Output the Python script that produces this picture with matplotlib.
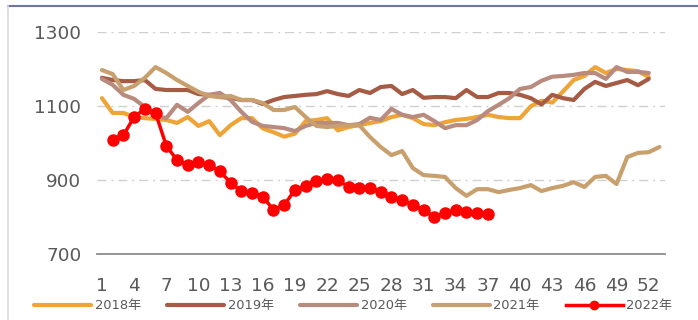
import matplotlib.pyplot as plt
from matplotlib.lines import Line2D

# weekly values, 2018-2022
weeks = list(range(1, 53))
weeks_2021 = list(range(1, 54))
weeks_2022 = list(range(2, 38))

y2018 = [1122, 1082, 1082, 1071, 1068, 1066, 1063, 1055, 1071, 1047,
         1060, 1022, 1049, 1068, 1068, 1040, 1030, 1018, 1026, 1060,
         1063, 1068, 1035, 1044, 1049, 1055, 1060, 1071, 1077, 1068,
         1052, 1049, 1057, 1063, 1066, 1071, 1077, 1071, 1068, 1068,
         1100, 1115, 1110, 1140, 1171, 1182, 1206, 1190, 1201, 1198,
         1195, 1179]
y2019 = [1177, 1171, 1168, 1168, 1171, 1147, 1144, 1144, 1144, 1133,
         1131, 1125, 1123, 1117, 1117, 1106, 1117, 1125, 1128, 1131,
         1133, 1141, 1133, 1128, 1144, 1136, 1152, 1155, 1133, 1144,
         1123, 1125, 1125, 1122, 1144, 1125, 1125, 1136, 1136, 1131,
         1122, 1105, 1131, 1122, 1117, 1147, 1166, 1155, 1163, 1171,
         1157, 1174]
y2020 = [1174, 1158, 1131, 1120, 1098, 1074, 1068, 1104, 1085, 1109,
         1131, 1136, 1117, 1085, 1058, 1047, 1044, 1041, 1033, 1047,
         1055, 1055, 1055, 1049, 1052, 1069, 1063, 1093, 1077, 1071,
         1077, 1060, 1041, 1049, 1049, 1063, 1087, 1104, 1122, 1147,
         1152, 1169, 1180, 1182, 1185, 1190, 1190, 1174, 1206, 1193,
         1193, 1190]
y2021 = [1198, 1187, 1144, 1155, 1177, 1206, 1190, 1171, 1155, 1139,
         1128, 1125, 1128, 1117, 1117, 1109, 1090, 1090, 1098, 1071,
         1047, 1044, 1047, 1049, 1049, 1017, 990, 968, 979, 933,
         914, 912, 909, 879, 858, 876, 876, 868, 874, 879,
         887, 871, 879, 885, 895, 882, 909, 912, 890, 963,
         974, 976, 990]
y2022 = [1009, 1022, 1071, 1093, 1082, 993, 955, 942, 950, 942,
         924, 894, 870, 867, 856, 820, 833, 874, 885, 899,
         904, 901, 882, 879, 879, 868, 855, 847, 833, 820,
         801, 812, 820, 814, 812, 809]

xticks = list(range(1, 53, 3))
yticks = [700, 900, 1100, 1300]

W, H = 698, 320
fig = plt.figure(figsize=(W / 100, H / 100), dpi=100)
ax = fig.add_axes([96.6 / W, 1 - 254.3 / H, 568.2 / W, 222.0 / H])

ax.plot(weeks, y2018, color='#EEA436', lw=3, label='2018年', solid_capstyle='round')
ax.plot(weeks, y2019, color='#A65B45', lw=3, label='2019年', solid_capstyle='round')
ax.plot(weeks, y2020, color='#B98A7E', lw=3, label='2020年', solid_capstyle='round')
ax.plot(weeks_2021, y2021, color='#C8A06E', lw=3, label='2021年', solid_capstyle='round')
ax.plot(weeks_2022, y2022, color='#FF0000', lw=2.5, marker='o', markersize=8,
        label='2022年')

ax.set_xlim(0.5, 53.5)
ax.set_ylim(700, 1300)
ax.set_xticks(xticks)
ax.set_yticks(yticks)
ax.tick_params(length=0, labelsize=13.3, colors='#595959')
ax.tick_params(axis='x', pad=16)
ax.tick_params(axis='y', pad=11)

ax.grid(axis='y', color='#D0D0D0', lw=1, linestyle=(0, (6.5, 3.5, 1.5, 3.5)))
for s in ['top', 'left', 'right']:
    ax.spines[s].set_visible(False)
ax.spines['bottom'].set_color('#8C8C8C')
ax.spines['bottom'].set_linewidth(1.3)

leg = fig.legend(loc='center', bbox_to_anchor=(0.506, 0.045), ncol=5, frameon=False,
                 handlelength=4.4, handletextpad=0.25, columnspacing=2.0, markerscale=0.75,
                 prop={'family': ['DejaVu Sans', 'Noto Sans CJK SC'], 'size': 9.4})
for t in leg.get_texts():
    t.set_color('#595959')

# outer frame of the original chart
fig.add_artist(Line2D([8 / W, 1], [1 - 6 / H, 1 - 6 / H], color='#6E76A6', lw=1.5))
fig.add_artist(Line2D([8 / W, 8 / W], [0, 1 - 6 / H], color='#DADADA', lw=1.2))

fig.savefig('out.png', dpi=100)
